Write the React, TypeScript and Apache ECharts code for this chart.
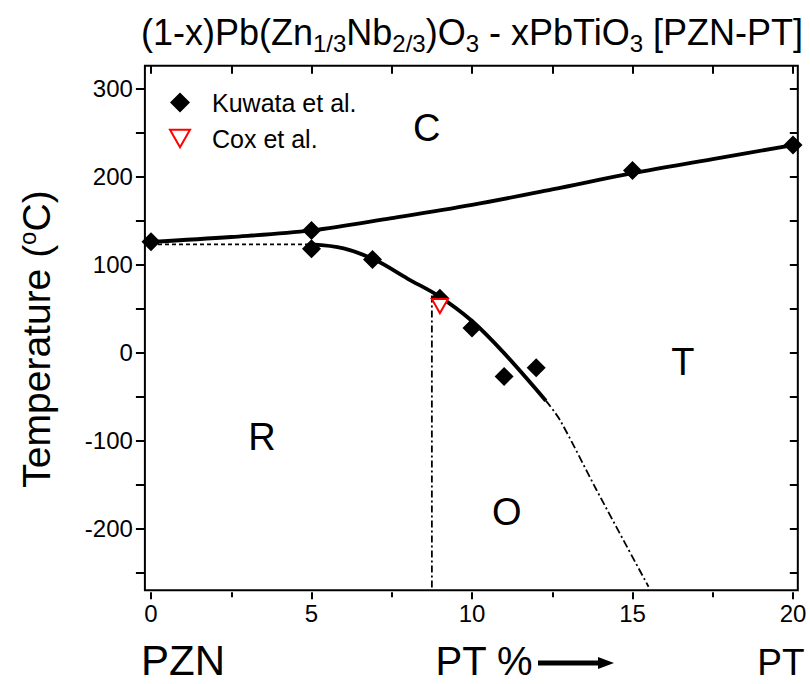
import React, { useEffect, useRef } from "react";
import * as echarts from "echarts";

// ---------- data ----------
const kuwataX = [0, 5, 5, 6.9, 9, 10, 11, 12, 15, 20];
const kuwataY = [126, 139, 118, 106, 62, 28, -27, -17, 207, 236];
const coxX = [9];
const coxY = [53];
// C / (R,T) boundary
const upperX = [0, 2.5, 5, 7.5, 10, 12.5, 15, 17.5, 20];
const upperY = [126, 131.5, 139, 153, 168, 185.5, 204, 220, 236];
// R / T boundary (solid)
const lowerX = [5, 6, 7, 8, 9, 10, 11, 12.3];
const lowerY = [123, 118.5, 105, 84, 63.5, 36, -0.5, -54.5];
// extrapolated (dash-dot)
const extX = [12.3, 12.74, 13.88, 15.5];
const extY = [-54.5, -76.5, -156, -266];
// vertical MPB (dash-dot)
const mpbX = [8.75, 8.75];
const mpbY = [65, -270];
// dashed R/C extension
const dashX = [0, 5];
const dashY = [123, 123];
// phase region labels
const phaseNames = ["C", "R", "O", "T"];
const phaseX = [8.59, 3.46, 11.08, 16.57];
const phaseY = [255, -96, -181, -10];

const X_MIN = 0, X_MAX = 20, X_STEP = 2.5;
const Y_MIN = -250, Y_MAX = 300, Y_STEP = 50;
const FRAME_X = [-0.19, 20.15];
const FRAME_Y = [-270, 326];

const FONT = '"Liberation Sans", Arial, sans-serif';

// ---------- layout ----------
const PX0 = 151, PXU = 32.1, PY0 = 352.7, PYU = 0.88;
const px = (x: number) => PX0 + x * PXU;
const py = (y: number) => PY0 - y * PYU;

const zip = (xs: number[], ys: number[]) => xs.map((x, i) => [x, ys[i]]);

export default function App() {
  const ref = useRef<HTMLDivElement>(null);
  useEffect(() => {
    if (!ref.current) return;
    const chart = echarts.init(ref.current, null, { renderer: "svg" });

    const fL = px(FRAME_X[0]), fR = px(FRAME_X[1]);
    const fT = py(FRAME_Y[1]), fB = py(FRAME_Y[0]);
    const aL = px(X_MIN), aR = px(X_MAX), aT = py(Y_MAX), aB = py(Y_MIN);

    const lineS = (name: string, xs: number[], ys: number[], width: number, type: any, smooth: any) => ({
      name,
      type: "line",
      xAxisIndex: 0,
      yAxisIndex: 0,
      data: zip(xs, ys),
      smooth,
      showSymbol: false,
      symbol: "none",
      silent: true,
      lineStyle: { color: "#000", width, type, opacity: 1 },
      z: 3,
    });

    const tickStyle = { color: "#000", width: 2 };

    const option: any = {
      animation: false,
      backgroundColor: "#fff",
      grid: [
        { left: fL, top: fT, width: fR - fL, height: fB - fT, show: true, borderColor: "#000", borderWidth: 2, backgroundColor: "transparent" },
        { left: aL, top: aT, width: aR - aL, height: aB - aT },
      ],
      xAxis: [
        { gridIndex: 0, type: "value", min: FRAME_X[0], max: FRAME_X[1], show: false },
        {
          gridIndex: 1, type: "value", min: X_MIN, max: X_MAX, interval: 5, position: "bottom",
          offset: fB - aB + 2,
          axisLine: { show: false, onZero: false },
          axisTick: { show: true, inside: false, length: 7, lineStyle: tickStyle },
          minorTick: { show: true, splitNumber: 2, length: 5, lineStyle: tickStyle },
          splitLine: { show: false },
          axisLabel: { show: true, margin: 9, fontSize: 24, color: "#000", fontFamily: FONT },
        },
        {
          gridIndex: 1, type: "value", min: X_MIN, max: X_MAX, interval: X_STEP, position: "top",
          offset: aT - fT,
          axisLine: { show: false, onZero: false },
          axisTick: { show: true, inside: true, length: 8, lineStyle: tickStyle },
          splitLine: { show: false },
          axisLabel: { show: false },
        },
      ],
      yAxis: [
        { gridIndex: 0, type: "value", min: FRAME_Y[0], max: FRAME_Y[1], show: false },
        {
          gridIndex: 1, type: "value", min: Y_MIN, max: Y_MAX, interval: Y_STEP, position: "left",
          offset: aL - fL,
          axisLine: { show: false, onZero: false },
          axisTick: { show: true, inside: false, length: 9, lineStyle: tickStyle },
          splitLine: { show: false },
          axisLabel: {
            show: true, margin: 12, fontSize: 24, color: "#000", fontFamily: FONT,
            formatter: (v: number) => (v % 100 === 0 ? String(v) : ""),
          },
        },
        {
          gridIndex: 1, type: "value", min: Y_MIN, max: Y_MAX, interval: Y_STEP, position: "right",
          offset: fR - aR,
          axisLine: { show: false, onZero: false },
          axisTick: { show: true, inside: true, length: 8, lineStyle: tickStyle },
          splitLine: { show: false },
          axisLabel: { show: false },
        },
      ],
      legend: {
        orient: "vertical",
        left: 164,
        top: 85,
        itemWidth: 20,
        itemHeight: 20,
        itemGap: 11,
        data: [
          { name: "Kuwata et al.", icon: "diamond" },
          { name: "Cox et al.", icon: "path://M0,0 L16,0 L8,14 Z" },
        ],
        textStyle: { fontSize: 25, lineHeight: 24, color: "#000", fontFamily: FONT, padding: [0, 0, 0, 17] },
      },
      graphic: [
        {
          type: "text", x: 472, y: 32,
          style: {
            text: "{n|(1-x)Pb(Zn}{s|1/3}{n|Nb}{s|2/3}{n|)O}{s|3}{n| - xPbTiO}{s|3}{n| [PZN-PT]}",
            align: "center", verticalAlign: "middle",
            rich: {
              n: { fontSize: 36, fontFamily: FONT, fill: "#000", color: "#000" },
              s: { fontSize: 24, fontFamily: FONT, fill: "#000", color: "#000", padding: [22, 0, 0, 0] },
            },
          },
        },
        {
          type: "text", x: 36, y: 339, rotation: Math.PI / 2,
          style: {
            text: "{n|Temperature (}{s|o}{n|C)}",
            align: "center", verticalAlign: "middle",
            rich: {
              n: { fontSize: 39, fontFamily: FONT, fill: "#000", color: "#000" },
              s: { fontSize: 24, fontFamily: FONT, fill: "#000", color: "#000", padding: [0, 0, 18, 0] },
            },
          },
        },
        { type: "text", x: 183, y: 660, style: { text: "PZN", fontSize: 42, fontFamily: FONT, fill: "#000", align: "center", verticalAlign: "middle" } },
        { type: "text", x: 484, y: 661, style: { text: "PT %", fontSize: 40, fontFamily: FONT, fill: "#000", align: "center", verticalAlign: "middle" } },
        { type: "text", x: 781, y: 662, style: { text: "PT", fontSize: 37, fontFamily: FONT, fill: "#000", align: "center", verticalAlign: "middle" } },
        { type: "polyline", shape: { points: [[538, 663], [600, 663]] }, style: { stroke: "#000", lineWidth: 5 } },
        { type: "polygon", shape: { points: [[598, 657], [614, 663], [598, 669]] }, style: { fill: "#000" } },
      ],
      series: [
        lineS("upper", upperX, upperY, 3.8, "solid", 0.35),
        lineS("lower", lowerX, lowerY, 3.8, "solid", 0.35),
        lineS("ext", extX, extY, 1.8, [8, 3, 2, 3], 0.3),
        lineS("mpb", mpbX, mpbY, 1.8, [7, 3, 2, 3], false),
        lineS("dash", dashX, dashY, 1.8, [4, 3], false),
        {
          name: "Kuwata et al.", type: "scatter", xAxisIndex: 0, yAxisIndex: 0,
          data: zip(kuwataX, kuwataY), symbol: "diamond", symbolSize: 19,
          itemStyle: { color: "#000", opacity: 1 }, z: 5,
        },
        {
          name: "Cox et al.", type: "scatter", xAxisIndex: 0, yAxisIndex: 0,
          data: zip(coxX, coxY), symbol: "triangle", symbolRotate: 180, symbolSize: [16, 14],
          itemStyle: { color: "#fff", borderColor: "#ff0000", borderWidth: 2, opacity: 1 }, z: 6,
        },
        {
          name: "phases", type: "scatter", xAxisIndex: 0, yAxisIndex: 0, silent: true,
          data: phaseNames.map((n, i) => ({ name: n, value: [phaseX[i], phaseY[i]] })),
          symbolSize: 1, itemStyle: { color: "rgba(0,0,0,0)", opacity: 1 },
          label: { show: true, position: "inside", formatter: "{b}", fontSize: 38, color: "#000", opacity: 1, fontFamily: FONT },
          z: 4,
        },
      ],
    };
    chart.setOption(option);
    return () => chart.dispose();
  }, []);

  return (
    <div
      ref={ref}
      style={{ position: "fixed", left: 0, top: 0, width: 810, height: 684, background: "#fff" }}
    />
  );
}
